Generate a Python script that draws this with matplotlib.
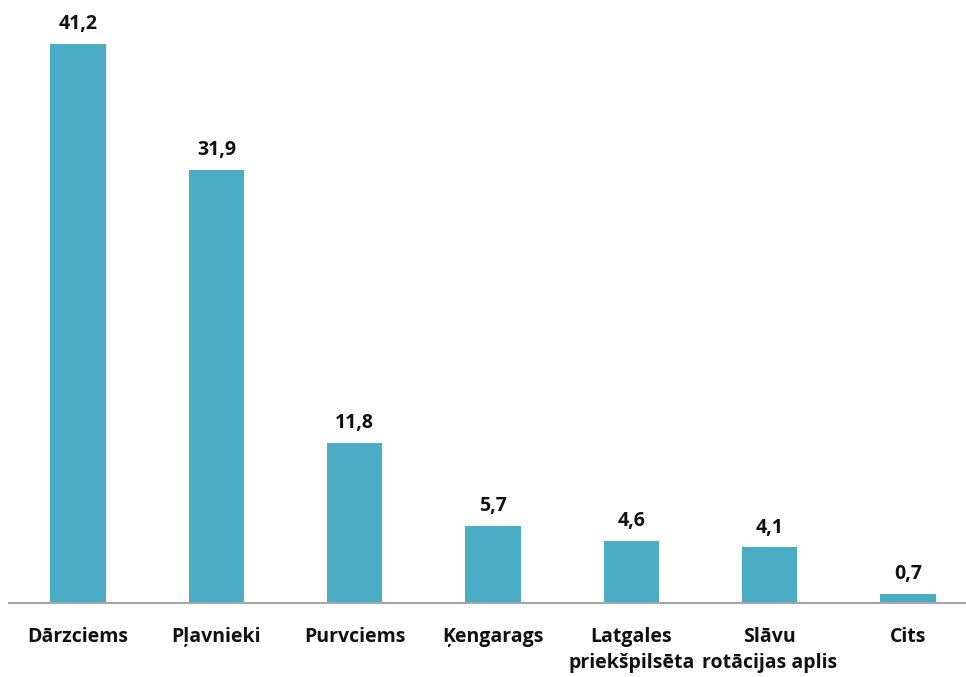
import matplotlib
matplotlib.use('Agg')
import matplotlib.pyplot as plt
import numpy as np

categories = ['Dārzciems', 'Pļavnieki', 'Purvciems', 'Ķengarags',
              'Latgales\npriekšpilsēta', 'Slāvu\nrotācijas aplis', 'Cits']
values = [41.2, 31.9, 11.8, 5.7, 4.6, 4.1, 0.7]

plt.rcParams['font.family'] = ['Open Sans', 'DejaVu Sans']

fig = plt.figure(figsize=(9.66, 6.77), dpi=100)
ax = fig.add_axes([9 / 966, 74 / 677, 957 / 966, 603 / 677])
x = np.arange(len(categories))
bars = ax.bar(x, values, width=0.4, color='#4BACC6')
ax.set_xlim(-0.5, 6.42)
ax.set_ylim(0, 44.44)

# value labels above each bar, decimal comma
for b, v in zip(bars, values):
    ax.annotate(f'{v:.1f}'.replace('.', ','), (b.get_x() + b.get_width() / 2, v),
                textcoords='offset points', xytext=(0, 7), ha='center', va='bottom',
                fontsize=14, fontweight='bold', color='#111111')

for s in ['top', 'right', 'left']:
    ax.spines[s].set_visible(False)
ax.spines['bottom'].set_color('#a6a6a6')
ax.spines['bottom'].set_linewidth(1.5)
ax.set_yticks([])
ax.set_xticks(x)
ax.set_xticklabels(categories, fontsize=14, fontweight='bold', color='#111111',
                   linespacing=1.45, va='top')
ax.tick_params(axis='x', length=0, pad=17)

fig.savefig('out.png', dpi=100)
